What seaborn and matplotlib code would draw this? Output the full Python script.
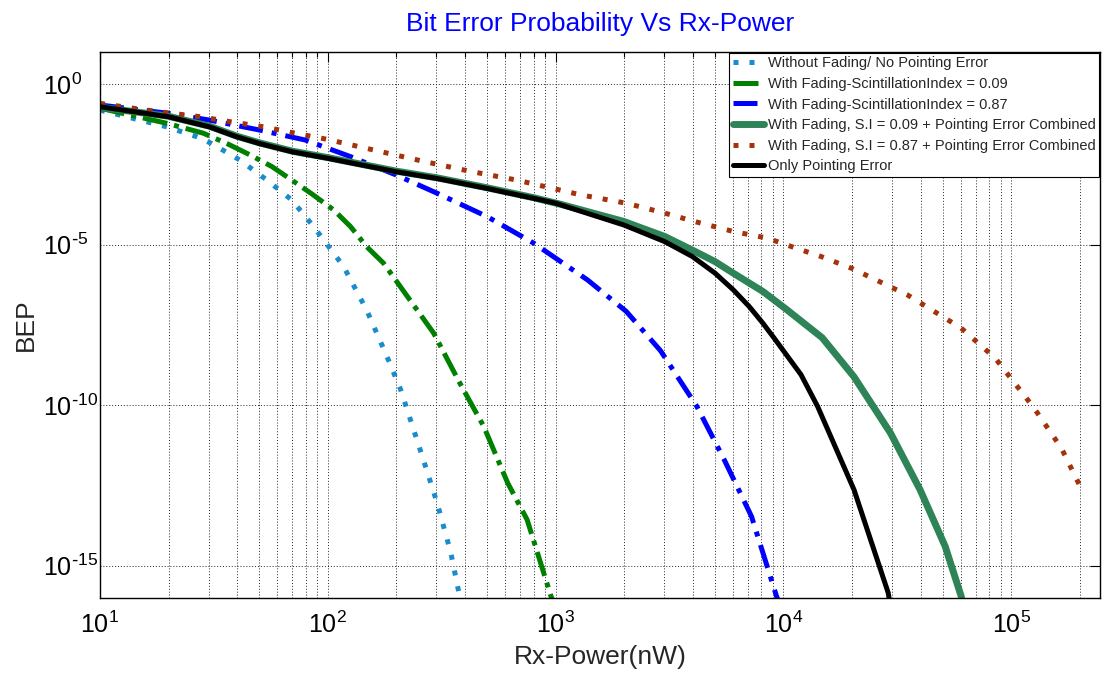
import numpy as np
import pandas as pd
import seaborn as sns
import matplotlib.pyplot as plt
from matplotlib.ticker import LogLocator, NullLocator, FuncFormatter

# values, stored as decade exponents:
# Rx power = 10**px_* (nW), BEP = 10**bep_*
px_nofade = [1.0, 1.147, 1.293, 1.425, 1.49, 1.615, 1.733, 1.842, 1.938, 2.026, 2.07, 2.17,
             2.26, 2.32, 2.41, 2.48, 2.54, 2.57, 2.59]
bep_nofade = [-0.81, -1.07, -1.33, -1.64, -1.85, -2.37, -2.99, -3.61, -4.44, -5.27, -5.69, -7.03,
              -8.49, -9.52, -11.49, -13.05, -14.6, -15.65, -16.3]

px_si009 = [1.0, 1.293, 1.454, 1.557, 1.66, 1.755, 1.842, 1.93, 2.026, 2.10, 2.17, 2.245,
            2.465, 2.58, 2.685, 2.79, 2.875, 2.98, 3.0]
bep_si009 = [-0.75, -1.22, -1.53, -1.85, -2.21, -2.57, -2.99, -3.42, -3.92, -4.44, -5.06, -5.58,
             -7.76, -9.32, -10.67, -12.43, -13.57, -15.96, -16.3]

px_si087 = [1.0, 1.30, 1.48, 1.70, 1.90, 2.10, 2.30, 2.48, 2.70, 2.905, 3.14, 3.31, 3.46,
            3.62, 3.74, 3.86, 3.97, 3.99]
bep_si087 = [-0.65, -0.91, -1.12, -1.43, -1.74, -2.26, -2.83, -3.40, -4.13, -4.96, -6.10, -7.08,
             -8.30, -10.04, -11.70, -13.47, -15.96, -16.3]

px_si009_pe = [1.0, 1.30, 1.48, 1.60, 1.70, 1.845, 2.0, 2.30, 2.48, 2.70, 2.905, 3.02, 3.30,
               3.48, 3.60, 3.70, 3.78, 3.91, 4.01, 4.17, 4.31, 4.47, 4.60, 4.71, 4.78, 4.79]
bep_si009_pe = [-0.72, -1.0, -1.31, -1.62, -1.83, -2.09, -2.29, -2.71, -2.92, -3.23, -3.54,
                -3.74, -4.28, -4.75, -5.17, -5.53, -5.89, -6.46, -7.0, -7.9, -9.12, -10.87,
                -12.64, -14.4, -15.95, -16.3]

px_si087_pe = [1.0, 1.154, 1.293, 1.44, 1.57, 1.718, 1.857, 1.997, 2.20, 2.41, 2.62, 2.83,
               2.97, 3.11, 3.31, 3.48, 3.61, 3.78, 3.93, 4.055, 4.165, 4.30, 4.545, 4.78, 4.93,
               5.10, 5.22, 5.31]
bep_si087_pe = [-0.60, -0.76, -0.89, -1.015, -1.17, -1.33, -1.53, -1.72, -2.05, -2.39, -2.71,
                -2.99, -3.22, -3.45, -3.71, -4.02, -4.28, -4.59, -4.80, -5.11, -5.37, -5.74,
                -6.57, -7.6, -8.54, -10.09, -11.34, -12.64]

px_pe = [1.0, 1.30, 1.48, 1.60, 1.70, 1.845, 2.0, 2.30, 2.48, 2.70, 2.905, 3.0, 3.30, 3.48,
         3.60, 3.70, 3.78, 3.85, 3.91, 3.96, 4.077, 4.15, 4.31, 4.46, 4.47]
bep_pe = [-0.705, -1.015, -1.33, -1.64, -1.85, -2.11, -2.31, -2.73, -2.94, -3.25, -3.56, -3.71,
          -4.39, -4.91, -5.37, -5.89, -6.41, -6.93, -7.45, -7.92, -9.05, -10.04, -12.64, -15.85,
          -16.3]

labels = ['Without Fading/ No Pointing Error',
          'With Fading-ScintillationIndex = 0.09',
          'With Fading-ScintillationIndex = 0.87',
          'With Fading, S.I = 0.09 + Pointing Error Combined',
          'With Fading, S.I = 0.87 + Pointing Error Combined',
          'Only Pointing Error']

sns.set_style('white')
plt.rcParams['font.family'] = ['Liberation Sans', 'DejaVu Sans']
plt.rcParams['axes.unicode_minus'] = False

fig = plt.figure(figsize=(11.02, 6.73), dpi=100)
ax = fig.add_axes([0.0907, 0.1119, 0.9074, 0.8108])

series = [
    (px_nofade, bep_nofade, '#1a8ccc', 3.6, (0, (1, 2.2))),
    (px_si009, bep_si009, '#008000', 3.6, (0, (5, 1.4, 1, 1.4))),
    (px_si087, bep_si087, '#0000ff', 3.6, (0, (4.8, 1.8, 1, 1.8))),
    (px_si009_pe, bep_si009_pe, '#2e8457', 5.0, '-'),
    (px_si087_pe, bep_si087_pe, '#a2330b', 3.6, (0, (1, 2.2))),
    (px_pe, bep_pe, 'black', 3.6, '-'),
]
for (ex, ey, col, lw, ls), lab in zip(series, labels):
    df = pd.DataFrame({'p': 10.0 ** np.array(ex), 'bep': 10.0 ** np.array(ey)})
    sns.lineplot(data=df, x='p', y='bep', ax=ax, color=col, linewidth=lw,
                 linestyle=ls, label=lab, sort=False, estimator=None)

ax.set_xscale('log')
ax.set_yscale('log')
ax.set_xlim(10, 2.45e5)
ax.set_ylim(1e-16, 1e1)
ax.set_yticks([1e0, 1e-5, 1e-10, 1e-15])
ax.yaxis.set_minor_locator(NullLocator())
ax.xaxis.set_major_locator(LogLocator(base=10))
ax.xaxis.set_minor_locator(LogLocator(base=10, subs=np.arange(2, 10)))


def pow_label(v, pos):
    e = int(round(np.log10(v)))
    s = str(e).replace('-', r'\text{-}')
    return r'$\mathdefault{10^{%s}}$' % s


ax.xaxis.set_major_formatter(FuncFormatter(pow_label))
ax.yaxis.set_major_formatter(FuncFormatter(pow_label))

ax.set_axisbelow(True)
ax.grid(True, which='major', axis='both', color='0.15', linestyle=(0, (1, 2)), linewidth=0.7)
ax.grid(True, which='minor', axis='x', color='0.15', linestyle=(0, (1, 2)), linewidth=0.7)

ax.tick_params(which='both', direction='in', top=True, right=True, colors='black')
ax.tick_params(which='major', length=7, width=0.8, labelsize=18)
ax.tick_params(which='minor', length=3.5, width=0.8)
ax.tick_params(axis='x', which='major', pad=10)
ax.tick_params(axis='y', which='major', pad=41)
plt.setp(ax.get_yticklabels(), ha='left')
for sp in ax.spines.values():
    sp.set_color('black')
    sp.set_linewidth(1.0)

ax.set_title('Bit Error Probability Vs Rx-Power', color='#0000ff', fontsize=19, pad=15)
ax.set_xlabel('Rx-Power(nW)', fontsize=19, labelpad=5)
ax.set_ylabel('BEP', fontsize=19)
ax.yaxis.set_label_coords(-0.062, 0.5)

leg = ax.legend(loc='upper right', fontsize=10.5, frameon=True, fancybox=False,
                edgecolor='black', framealpha=1, borderaxespad=0.05, borderpad=0.25,
                labelspacing=0.45, handlelength=2.1, handletextpad=0.28)
leg.get_frame().set_linewidth(0.8)

fig.savefig('out.png', dpi=100)
